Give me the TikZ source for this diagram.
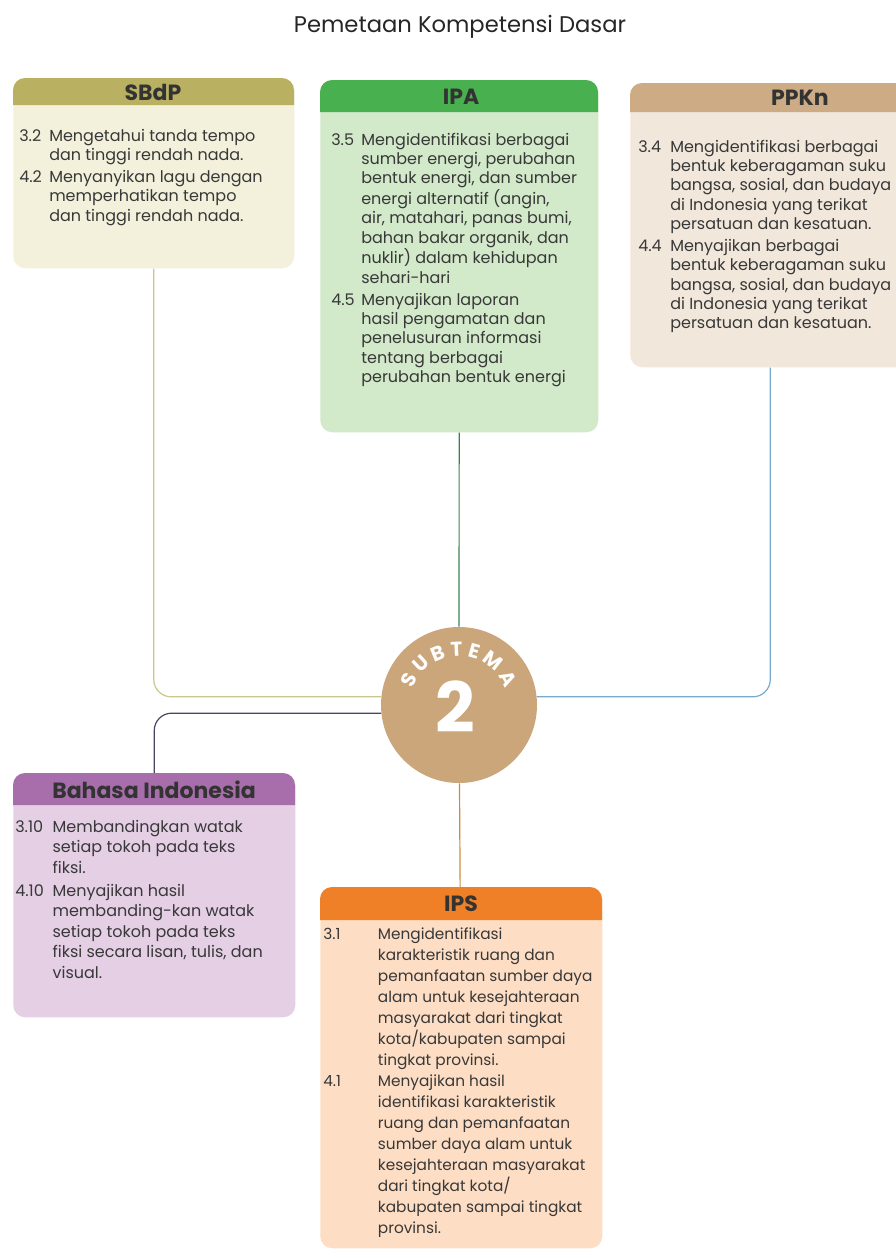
\documentclass[tikz,border=0pt]{standalone}
\usepackage{fontspec}
\setmainfont{Poppins}
\usetikzlibrary{calc,positioning,decorations.text}
\definecolor{sbdphead}{RGB}{186,176,98}  \definecolor{sbdpbody}{RGB}{243,241,220}
\definecolor{ipahead}{RGB}{72,176,78}    \definecolor{ipabody}{RGB}{210,233,202}
\definecolor{ppknhead}{RGB}{205,171,132} \definecolor{ppknbody}{RGB}{241,231,219}
\definecolor{bindhead}{RGB}{168,110,172} \definecolor{bindbody}{RGB}{229,207,229}
\definecolor{ipshead}{RGB}{240,128,40}   \definecolor{ipsbody}{RGB}{253,222,196}
\definecolor{subcol}{RGB}{202,166,122}
\tikzset{kdbox/.style={rounded corners=9pt,inner sep=0pt,anchor=north west},
  kdhead/.style={font=\fontsize{16.5}{18}\selectfont\bfseries,text=black!80},
  kdtext/.style={anchor=base west,inner sep=0pt,text=black!78,font=\fontsize{12}{14.5}\selectfont},
  link/.style={line width=0.9pt,rounded corners=13pt}}

\begin{document}
\begin{tikzpicture}[x=0.75pt,y=-0.75pt,line join=round]
\fill[white] (0,0) rectangle (896,1250);
\useasboundingbox (0,0) rectangle (896,1250);
\node[font=\fontsize{17}{20}\selectfont,text=black!85] (title) at (460,27) {Pemetaan Kompetensi Dasar};
% --- SBdP
\node[kdbox,fill=sbdpbody,minimum width=281*0.75pt,minimum height=190*0.75pt] (sbdp) at (13,78) {};
\fill[sbdphead] (13,105) [rounded corners=9pt] -- (13,78) -- (294,78) [sharp corners] -- (294,105) -- cycle;
\node[kdhead] (sbdp-h) at (153,92) {SBdP};
\node[kdtext] (sbdp-t) at (19,141) {\begin{tabular}[t]{@{}p{22.5pt}@{}l@{}}
3.2 & Mengetahui tanda tempo\\ & dan tinggi rendah nada.\\[2pt]
4.2 & Menyanyikan lagu dengan\\ & memperhatikan tempo\\ & dan tinggi rendah nada.\end{tabular}};
% --- IPA
\node[kdbox,fill=ipabody,minimum width=278*0.75pt,minimum height=352*0.75pt] (ipa) at (320,80) {};
\fill[ipahead] (320,112) [rounded corners=9pt] -- (320,80) -- (598,80) [sharp corners] -- (598,112) -- cycle;
\node[kdhead] (ipa-h) at (461,97) {IPA};
\node[kdtext] (ipa-t) at (331,145) {\begin{tabular}[t]{@{}p{22.5pt}@{}l@{}}
3.5 & Mengidentifikasi berbagai\\ & sumber energi, perubahan\\ & bentuk energi, dan sumber\\
 & energi alternatif (angin,\\ & air, matahari, panas bumi,\\ & bahan bakar organik, dan\\
 & nuklir) dalam kehidupan\\ & sehari-hari\\[2pt]
4.5 & Menyajikan laporan\\ & hasil pengamatan dan\\ & penelusuran informasi\\ & tentang berbagai\\
 & perubahan bentuk energi\end{tabular}};
% --- PPKn
\node[kdbox,fill=ppknbody,minimum width=280*0.75pt,minimum height=284*0.75pt] (ppkn) at (630,83) {};
\fill[ppknhead] (630,112) [rounded corners=9pt] -- (630,83) -- (910,83) [sharp corners] -- (910,112) -- cycle;
\node[kdhead] (ppkn-h) at (800,98) {PPKn};
\node[kdtext] (ppkn-t) at (638,152) {\begin{tabular}[t]{@{}p{24pt}@{}l@{}}
3.4 & Mengidentifikasi berbagai\\ & bentuk keberagaman suku\\ & bangsa, sosial, dan budaya\\
 & di Indonesia yang terikat\\ & persatuan dan kesatuan.\\[2pt]
4.4 & Menyajikan berbagai\\ & bentuk keberagaman suku\\ & bangsa, sosial, dan budaya\\
 & di Indonesia yang terikat\\ & persatuan dan kesatuan.\end{tabular}};
% --- Bahasa Indonesia
\node[kdbox,fill=bindbody,minimum width=282*0.75pt,minimum height=244*0.75pt] (bind) at (13,773) {};
\fill[bindhead] (13,805) [rounded corners=9pt] -- (13,773) -- (295,773) [sharp corners] -- (295,805) -- cycle;
\node[kdhead] (bind-h) at (154,790) {Bahasa Indonesia};
\node[kdtext,font=\fontsize{12}{15.4}\selectfont] (bind-t) at (15,832) {\begin{tabular}[t]{@{}p{28pt}@{}l@{}}
3.10 & Membandingkan watak\\ & setiap tokoh pada teks\\ & fiksi.\\[2pt]
4.10 & Menyajikan hasil\\ & membanding-kan watak\\ & setiap tokoh pada teks\\
 & fiksi secara lisan, tulis, dan\\ & visual.\end{tabular}};
% --- IPS
\node[kdbox,fill=ipsbody,minimum width=282*0.75pt,minimum height=361*0.75pt] (ips) at (320,887) {};
\fill[ipshead] (320,920) [rounded corners=9pt] -- (320,887) -- (602,887) [sharp corners] -- (602,920) -- cycle;
\node[kdhead] (ips-h) at (461,904) {IPS};
\node[kdtext,font=\fontsize{11.5}{15.8}\selectfont] (ips-t) at (323,939) {\begin{tabular}[t]{@{}p{41pt}@{}l@{}}
3.1 & Mengidentifikasi\\ & karakteristik ruang dan\\ & pemanfaatan sumber daya\\
 & alam untuk kesejahteraan\\ & masyarakat dari tingkat\\ & kota/kabupaten sampai\\
 & tingkat provinsi.\\
4.1 & Menyajikan hasil\\ & identifikasi karakteristik\\ & ruang dan pemanfaatan\\
 & sumber daya alam untuk\\ & kesejahteraan masyarakat\\ & dari tingkat kota/\\
 & kabupaten sampai tingkat\\ & provinsi.\end{tabular}};
% --- subtema circle and links
\node[circle,fill=subcol,inner sep=0pt,minimum size=156*0.75pt] (sub) at (459,705) {};
\node[font=\fontsize{52}{52}\selectfont\bfseries,text=white] (two) at (455,707) {2};
\path[decorate,decoration={text along path,text align=center,
  text={|\fontsize{15}{15}\selectfont\bfseries\color{white}|S U B T E M A}}]
  ($(sub.center)+(-168:49)$) arc[start angle=-168,end angle=-12,radius=49];
\draw[link,color={rgb,255:red,204;green,198;blue,140}] (sbdp.south) |- (sub.174);
\draw[link,color={rgb,255:red,62;green,130;blue,82}] (ipa) -- (sub);
\draw[link,color={rgb,255:red,120;green,170;blue,205}] (ppkn.south) |- (sub.6);
\draw[link,color={rgb,255:red,74;green,68;blue,96}] (sub.186) -| (bind.north);
\draw[link,color={rgb,255:red,205;green,140;blue,60}] (sub) -- (ips);
\end{tikzpicture}
\end{document}
